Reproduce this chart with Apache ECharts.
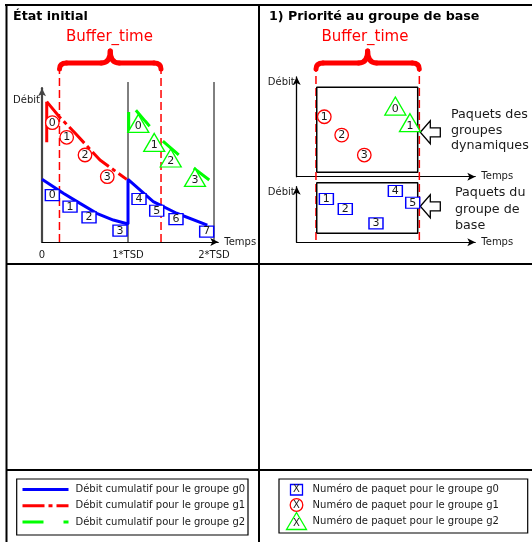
<!DOCTYPE html>
<html>
<head>
<meta charset="utf-8">
<title>Priorité au groupe de base</title>
<script src="https://cdn.jsdelivr.net/npm/echarts@6.0.0/dist/echarts.min.js"></script>
<style>
html,body{margin:0;padding:0;background:#ffffff;}
#chart{width:532px;height:542px;}
</style>
</head>
<body>
<div id="chart"></div>
<script>
// ===== Data (x in TSD units, y in "débit" units) =====
const tsdTickLabels = ['0', '1*TSD', '2*TSD'];
const tsdBoundaries = [1, 2];
const bufferWindowInitial = [0.203, 1.384];
const bufferWindowPriority = [0.224, 1.426];

// cumulative rate curves (initial state)
const g0Rate = [[0, 39.9], [0.248, 31.0], [0.442, 24.6], [0.636, 18.3], [0.829, 14.0], [1.0, 11.5],
                [1.0, 39.9], [1.294, 25.7], [1.566, 18.3], [1.922, 10.8]];
const g1Rate = [[0.055, 89.4], [0.201, 79.8], [0.384, 69.4], [0.674, 52.2], [0.985, 39.9]];
const g1Jump = [[0.055, 63.5], [0.055, 89.4]];
const g2Rate = [[1.008, 89.2], [1.2, 77.0], [1.4, 64.5], [1.6, 55.0], [1.8, 45.5], [1.945, 39.5]];
const g2Jump = [[1.008, 69.4], [1.008, 82.8]];

// packets: [x, y, packet number]
const g0PacketsInitial = [[0.120, 29.9, 0], [0.326, 22.5, 1], [0.547, 15.7, 2], [0.907, 7.2, 3],
                          [1.128, 27.4, 4], [1.334, 19.9, 5], [1.558, 14.6, 6], [1.915, 6.6, 7]];
const g1PacketsInitial = [[0.120, 76.0, 0], [0.287, 66.7, 1], [0.500, 55.4, 2], [0.759, 41.6, 3]];
const g2PacketsInitial = [[1.120, 75.5, 0], [1.305, 63.4, 1], [1.497, 53.5, 2], [1.779, 41.1, 3]];

const g1PacketsPriority = [[0.321, 38.2, 1], [0.523, 26.5, 2], [0.786, 13.8, 3]];
const g2PacketsPriority = [[1.147, 45.0, 0], [1.317, 34.4, 1]];
const g0PacketsPriority = [[0.345, 27.6, 1], [0.565, 21.2, 2], [0.922, 12.1, 3], [1.147, 32.7, 4], [1.349, 25.2, 5]];

// buffer boxes in the priority panel
const priorityBoxX = [0.233, 1.407];
const dynamicBoxY = [2.8, 56.9];
const baseBoxY = [5.7, 38.0];

// texts
const panelTitles = ['État initial', '1) Priorité au groupe de base'];
const bufferLabel = 'Buffer_time';
const dynamicNote = ['Paquets des', 'groupes', 'dynamiques'];
const baseNote = ['Paquets du', 'groupe de', 'base'];
const rateLegend = ['Débit cumulatif pour le groupe g0', 'Débit cumulatif pour le groupe g1', 'Débit cumulatif pour le groupe g2'];
const packetLegend = ['Numéro de paquet pour le groupe g0', 'Numéro de paquet pour le groupe g1', 'Numéro de paquet pour le groupe g2'];

// ===== Layout & style =====
const FONT = 'DejaVu Sans';
const TXT = '#1a1a1a';
const BLUE = '#0000ff', RED = '#ff0000', GREEN = '#00ff00';
const PXU = 1.57;   // px per débit unit
const PXT = 86;     // px per TSD
const LX_MAX = 2.05, LY_MAX = 98;
const RX_MAX = 2.077, RU_MAX = 63.5, RL_MAX = 35.4;
const TSD_LINE_TOP = 101.9, BUF_TOP_L = 110.8, BUF_TOP_R = 111.0, BUF_BOT_R = 1.5;

const grids = [
  {left: 42, top: 242 - LY_MAX * PXU, width: LX_MAX * PXT, height: LY_MAX * PXU},
  {left: 296.7, top: 176.7 - RU_MAX * PXU, width: RX_MAX * PXT, height: RU_MAX * PXU},
  {left: 296.7, top: 242.3 - RL_MAX * PXU, width: RX_MAX * PXT, height: RL_MAX * PXU}
].map(g => Object.assign({outerBoundsMode: 'none', containLabel: false}, g));

function xAx(gi, max, labels) {
  return {
    gridIndex: gi, type: 'value', min: 0, max: max, interval: 1,
    axisLine: {show: true, onZero: false, symbol: ['none', 'arrow'], symbolSize: [6, 8], lineStyle: {color: '#000', width: 1}},
    axisTick: {show: false}, splitLine: {show: false},
    axisLabel: labels ? {
      show: true, margin: 8, fontSize: 10, color: TXT, fontFamily: FONT,
      showMaxLabel: false, hideOverlap: false,
      formatter: v => (Number.isInteger(v) && v < tsdTickLabels.length) ? tsdTickLabels[v] : ''
    } : {show: false},
    name: 'Temps', nameLocation: 'end', nameGap: 6,
    nameTextStyle: {fontSize: 10, color: TXT, fontFamily: FONT, align: 'left', verticalAlign: 'middle'}
  };
}
function yAx(gi, max, nameGap, color, width) {
  return {
    gridIndex: gi, type: 'value', min: 0, max: max,
    axisLine: {show: true, onZero: false, symbol: ['none', 'arrow'], symbolSize: [6, 8], lineStyle: {color: color, width: width}},
    axisTick: {show: false}, axisLabel: {show: false}, splitLine: {show: false},
    name: 'Débit', nameLocation: 'end', nameGap: nameGap,
    nameTextStyle: {fontSize: 10, color: TXT, fontFamily: FONT, align: 'right', verticalAlign: 'middle', padding: [0, 2, 0, 0]}
  };
}

function seg(ax, data, color, width, type, extra) {
  return Object.assign({
    type: 'line', xAxisIndex: ax, yAxisIndex: ax, data: data, symbol: 'none', clip: false, silent: true,
    animation: false, lineStyle: {color: color, width: width, type: type || 'solid'}, itemStyle: {color: color}, z: 2
  }, extra || {});
}
function packets(ax, data, symbol, size, color, offset) {
  return {
    type: 'scatter', xAxisIndex: ax, yAxisIndex: ax, data: data, symbol: symbol, symbolSize: size,
    silent: true, animation: false, z: 5, clip: false,
    itemStyle: {color: '#ffffff', borderColor: color, borderWidth: 1.3, opacity: 1},
    label: {show: true, position: 'inside', formatter: p => String(p.value[2]), fontSize: 11, color: TXT,
            fontFamily: FONT, offset: offset || [0, 0]}
  };
}
function box(ax, xs, ys) {
  return [[xs[0], ys[0]], [xs[1], ys[0]], [xs[1], ys[1]], [xs[0], ys[1]], [xs[0], ys[0]]];
}

const series = [];
tsdBoundaries.forEach(t => series.push(seg(0, [[t, 0], [t, TSD_LINE_TOP]], '#000', 1, 'solid', {z: 1})));
bufferWindowInitial.forEach(b => series.push(seg(0, [[b, 0], [b, BUF_TOP_L]], RED, 1.5, [8, 4], {z: 1})));
bufferWindowPriority.forEach(b => series.push(seg(2, [[b, BUF_BOT_R], [b, BUF_TOP_R]], RED, 1.5, [8, 4], {z: 1})));

series.push(seg(0, g0Rate, BLUE, 3, 'solid', {name: rateLegend[0]}));
series.push(seg(0, g1Rate, RED, 3, [22, 4, 4, 4], {name: rateLegend[1]}));
series.push(seg(0, g1Jump, RED, 3, 'solid', {name: 'g1 saut'}));
series.push(Object.assign(seg(0, g2Rate, GREEN, 3, [21, 20], {name: rateLegend[2]}),
  {lineStyle: {color: GREEN, width: 3, type: [21, 20], dashOffset: 30}}));
series.push(seg(0, g2Jump, GREEN, 3, 'solid', {name: 'g2 saut'}));

series.push(seg(1, box(1, priorityBoxX, dynamicBoxY), '#000', 1.5, 'solid', {z: 1}));
series.push(seg(2, box(2, priorityBoxX, baseBoxY), '#000', 1.5, 'solid', {z: 1}));

series.push(packets(0, g0PacketsInitial, 'rect', [14, 11], BLUE));
series.push(packets(0, g1PacketsInitial, 'circle', 13.5, RED));
series.push(packets(0, g2PacketsInitial, 'triangle', [21, 18], GREEN, [0, 3]));
series.push(packets(1, g1PacketsPriority, 'circle', 13.5, RED));
series.push(packets(1, g2PacketsPriority, 'triangle', [21, 18], GREEN, [0, 3]));
series.push(packets(2, g0PacketsPriority, 'rect', [14, 11], BLUE));

// ===== decorations =====
function line(x1, y1, x2, y2, w, c) {
  return {type: 'line', shape: {x1, y1, x2, y2}, style: {stroke: c || '#000', lineWidth: w}, silent: true};
}
function text(x, y, t, size, opts) {
  return {type: 'text', x: x, y: y, silent: true,
    style: Object.assign({text: t, fontSize: size, fontFamily: FONT, fill: TXT, verticalAlign: 'middle', align: 'left'}, opts || {})};
}
function brace(x0, x1) {
  const yEnd = 69, yArm = 63, yTip = 51, xm = (x0 + x1) / 2;
  const st = {stroke: RED, lineWidth: 5, fill: 'none', lineCap: 'round'};
  return [
    {type: 'bezierCurve', shape: {x1: x0, y1: yEnd, cpx1: x0, cpy1: yArm, x2: x0 + 7, y2: yArm}, style: st, silent: true},
    {type: 'line', shape: {x1: x0 + 7, y1: yArm, x2: xm - 9, y2: yArm}, style: st, silent: true},
    {type: 'bezierCurve', shape: {x1: xm - 9, y1: yArm, cpx1: xm, cpy1: yArm, x2: xm, y2: yTip}, style: st, silent: true},
    {type: 'bezierCurve', shape: {x1: xm, y1: yTip, cpx1: xm, cpy1: yArm, x2: xm + 9, y2: yArm}, style: st, silent: true},
    {type: 'line', shape: {x1: xm + 9, y1: yArm, x2: x1 - 7, y2: yArm}, style: st, silent: true},
    {type: 'bezierCurve', shape: {x1: x1 - 7, y1: yArm, cpx1: x1, cpy1: yArm, x2: x1, y2: yEnd}, style: st, silent: true}
  ];
}
function hollowArrow(xTip, yc) {
  return {type: 'polygon', silent: true,
    shape: {points: [[xTip, yc], [xTip + 10, yc - 11.5], [xTip + 10, yc - 4.5], [xTip + 20, yc - 4.5],
                     [xTip + 20, yc + 4.5], [xTip + 10, yc + 4.5], [xTip + 10, yc + 11.5]]},
    style: {fill: '#ffffff', stroke: '#000', lineWidth: 1.3}};
}

const graphic = [
  line(5, 5, 532, 5, 2), line(6.5, 4, 6.5, 542, 2), line(259, 4, 259, 542, 2),
  line(6, 264, 532, 264, 2), line(6, 470, 532, 470, 2),
  text(13, 17, panelTitles[0], 12.7, {fontWeight: 'bold', fill: '#000'}),
  text(269, 17, panelTitles[1], 12.7, {fontWeight: 'bold', fill: '#000'}),
  text(109.5, 37.5, bufferLabel, 15, {fill: RED, align: 'center'}),
  text(365, 37.5, bufferLabel, 15, {fill: RED, align: 'center'}),
  ...brace(59.5, 161),
  ...brace(316, 419.3),
  hollowArrow(420.3, 132.3),
  hollowArrow(420.3, 206.3),
  {type: 'text', x: 451, y: 107.3, silent: true,
   style: {text: dynamicNote.join('\n'), fontSize: 12.7, lineHeight: 15.5, fontFamily: FONT, fill: TXT, verticalAlign: 'top'}},
  {type: 'text', x: 455, y: 184.7, silent: true,
   style: {text: baseNote.join('\n'), fontSize: 12.7, lineHeight: 16.5, fontFamily: FONT, fill: TXT, verticalAlign: 'top'}},
  // legend boxes
  {type: 'rect', shape: {x: 16.7, y: 479, width: 231.3, height: 56}, style: {fill: 'none', stroke: '#000', lineWidth: 1.2}, silent: true},
  {type: 'rect', shape: {x: 279, y: 479, width: 248.7, height: 54}, style: {fill: 'none', stroke: '#000', lineWidth: 1.2}, silent: true},
  // packet legend
  {type: 'rect', shape: {x: 290.5, y: 484.5, width: 12, height: 10.5}, style: {fill: '#fff', stroke: BLUE, lineWidth: 1.3}, silent: true},
  {type: 'circle', shape: {cx: 296.5, cy: 505, r: 6.3}, style: {fill: '#fff', stroke: RED, lineWidth: 1.3}, silent: true},
  {type: 'polygon', shape: {points: [[296.5, 512.5], [286.5, 529.5], [306.5, 529.5]]}, style: {fill: '#fff', stroke: GREEN, lineWidth: 1.3}, silent: true},
  text(296.5, 489.7, 'X', 10, {align: 'center'}),
  text(296.5, 505.2, 'X', 10, {align: 'center'}),
  text(296.5, 523.5, 'X', 10, {align: 'center'}),
  text(312.6, 489.7, packetLegend[0], 10),
  text(312.6, 505.2, packetLegend[1], 10),
  text(312.6, 521.5, packetLegend[2], 10)
];

const option = {
  animation: false,
  backgroundColor: '#ffffff',
  textStyle: {fontFamily: FONT},
  grid: grids,
  xAxis: [xAx(0, LX_MAX, true), xAx(1, RX_MAX, false), xAx(2, RX_MAX, false)],
  yAxis: [yAx(0, LY_MAX, -12, '#444', 2.2), yAx(1, RU_MAX, -5.7, '#000', 1.3), yAx(2, RL_MAX, -6, '#000', 1.3)],
  legend: {
    data: rateLegend, orient: 'vertical', left: 21, top: 483.5, padding: 0,
    itemWidth: 46, itemHeight: 10, itemGap: 4.3, selectedMode: false,
    itemStyle: {opacity: 0},
    lineStyle: {width: 3, dashOffset: 0},
    textStyle: {fontSize: 10, color: TXT, fontFamily: FONT, lineHeight: 12, padding: [0, 0, 0, 2]}
  },
  series: series,
  graphic: graphic
};

const chart = echarts.init(document.getElementById('chart'), null, {renderer: 'canvas', width: 532, height: 542});
chart.setOption(option);
</script>
</body>
</html>
